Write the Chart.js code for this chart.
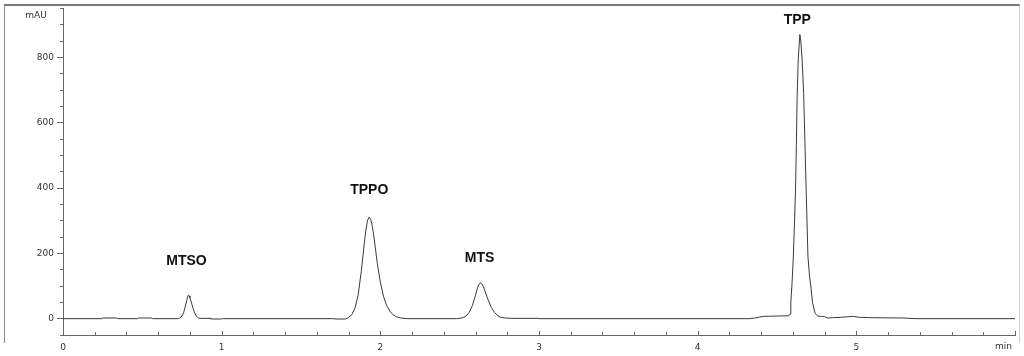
<!DOCTYPE html>
<html><head><meta charset="utf-8">
<script src="https://cdn.jsdelivr.net/npm/chart.js@4.4.1/dist/chart.umd.min.js"></script>
<style>
html,body{margin:0;padding:0;background:#fff;}
#wrap{position:relative;width:1024px;height:356px;overflow:hidden;}
#frame{position:absolute;left:4px;top:4px;width:1016px;height:339px;border-left:1px solid #8a8a8a;border-top:2px solid #7a7a7a;border-right:1px solid #d4d4d4;box-sizing:border-box;pointer-events:none;}
canvas{position:absolute;left:0;top:0;}
</style></head><body>
<div id="wrap"><canvas id="c" width="1024" height="356"></canvas><div id="frame"></div></div>
<script>
// retention time (min)
const times = [
  0, 0.245, 0.25, 0.34, 0.345, 0.47, 0.475, 0.56, 0.565, 0.72,
  0.735, 0.75, 0.76, 0.77, 0.78, 0.785, 0.79, 0.795, 0.80, 0.81,
  0.82, 0.83, 0.84, 0.85, 0.863, 0.93, 0.932, 1.0, 1.005, 1.70,
  1.72, 1.78, 1.79, 1.80, 1.82, 1.84, 1.86, 1.88, 1.90, 1.91,
  1.92, 1.93, 1.94, 1.95, 1.96, 1.98, 2.00, 2.02, 2.04, 2.06,
  2.08, 2.10, 2.13, 2.17, 2.48, 2.50, 2.52, 2.54, 2.56, 2.58,
  2.60, 2.61, 2.62, 2.63, 2.64, 2.65, 2.66, 2.68, 2.70, 2.72,
  2.74, 2.76, 2.79, 2.82, 3.0, 3.005, 4.33, 4.36, 4.39, 4.42,
  4.50, 4.575, 4.582, 4.587, 4.595, 4.602, 4.610, 4.617, 4.622, 4.627,
  4.634, 4.644, 4.650, 4.658, 4.668, 4.676, 4.684, 4.695, 4.705, 4.713,
  4.724, 4.74, 4.757, 4.78, 4.80, 4.82, 4.85, 4.90, 4.95, 4.98,
  5.02, 5.10, 5.30, 5.37, 6.0
];
// detector signal (mAU)
const signal = [
  0, 0, 2, 2, 0, 0, 2, 2, 0, 0,
  2, 8, 18, 36, 56, 66, 72, 70, 64, 48,
  31, 17, 8, 3, 1, 1, -1, -1, 0, 0,
  -1, -1, 1, 4, 12, 32, 72, 145, 235, 275,
  302, 311, 303, 282, 250, 172, 112, 68, 40, 23,
  12, 6, 2, 0, 0, 1, 3, 8, 19, 40,
  72, 90, 104, 110, 107, 97, 84, 57, 34, 19,
  9, 4, 2, 1, 1, 0, 0, 2, 5, 7,
  8, 9, 14, 49, 110, 180, 290, 400, 530, 680,
  796, 870, 850, 796, 690, 540, 390, 190, 130, 100,
  49, 16, 8, 7, 6, 2, 3, 4, 6, 7,
  4, 3, 2, 0, 0
];
// peak annotations
const peakNames = ['MTSO', 'TPPO', 'MTS', 'TPP'];
const peakLabelTimes = [0.778, 1.93, 2.625, 4.628];
const peakLabelLevels = [176, 393, 186, 913];
// tick labels
const yTickLabels = [0, 200, 400, 600, 800];
const xTickLabels = [0, 1, 2, 3, 4, 5];
const yUnit = 'mAU';
const xUnit = 'min';

const TICK_FONT = {family: '"DejaVu Sans", sans-serif', size: 9};
const TEXT_COLOR = '#333';

const isInt = v => Math.abs(v - Math.round(v)) < 1e-6;

const annotPlugin = {
  id: 'annot',
  afterDraw(chart) {
    const ctx = chart.ctx, xs = chart.scales.x, ys = chart.scales.y, ca = chart.chartArea;
    ctx.save();
    // upward x ticks
    ctx.strokeStyle = '#666';
    ctx.lineWidth = 1;
    xs.ticks.forEach(t => {
      const px = Math.round(xs.getPixelForValue(t.value)) + 0.5;
      const major = isInt(t.value);
      ctx.beginPath();
      ctx.moveTo(px, xs.top - (major ? 4 : 3));
      ctx.lineTo(px, xs.top + (major ? 1 : 0));
      ctx.stroke();
    });
    // peak labels
    ctx.fillStyle = '#111';
    ctx.font = 'bold 14px "Liberation Sans", Arial, sans-serif';
    ctx.textAlign = 'center';
    ctx.textBaseline = 'middle';
    peakNames.forEach((n, i) => {
      ctx.fillText(n, xs.getPixelForValue(peakLabelTimes[i]), ys.getPixelForValue(peakLabelLevels[i]));
    });
    // units
    ctx.fillStyle = TEXT_COLOR;
    ctx.font = '9px "DejaVu Sans", sans-serif';
    ctx.textAlign = 'center';
    ctx.fillText(yUnit, ca.left - 27, ca.top + 7);
    ctx.textAlign = 'right';
    ctx.fillText(xUnit, ca.right - 3, xs.top + 12);
    ctx.restore();
  }
};

new Chart(document.getElementById('c'), {
  type: 'line',
  data: {
    datasets: [{
      data: times.map((t, i) => ({x: t, y: signal[i]})),
      borderColor: '#3a3a3a',
      borderWidth: 1,
      pointRadius: 0,
      tension: 0,
      fill: false
    }]
  },
  options: {
    responsive: false,
    animation: false,
    events: [],
    layout: {padding: {left: 0, right: 9, top: 7, bottom: 0}},
    plugins: {legend: {display: false}, tooltip: {enabled: false}, title: {display: false}},
    scales: {
      x: {
        type: 'linear',
        min: 0, max: 6,
        afterFit: s => { s.height = 21; },
        border: {display: true, color: '#666', width: 1},
        grid: {display: true, drawOnChartArea: false, drawTicks: false},
        ticks: {
          stepSize: 0.2, autoSkip: false, maxRotation: 0, padding: 7,
          font: TICK_FONT, color: TEXT_COLOR,
          callback: v => (isInt(v) && xTickLabels.includes(Math.round(v))) ? String(Math.round(v)) : ''
        }
      },
      y: {
        type: 'linear',
        min: -50, max: 950,
        afterFit: s => { s.width = 63; },
        border: {display: true, color: '#666', width: 1},
        grid: {
          display: true, drawOnChartArea: false, drawTicks: true, tickLength: 6,
          tickColor: '#666',
          tickBorderDash: c => (c.tick && yTickLabels.includes(c.tick.value)) ? [] : [0, 3, 3, 20]
        },
        ticks: {
          stepSize: 50, autoSkip: false, padding: 3,
          font: TICK_FONT, color: TEXT_COLOR,
          callback: v => yTickLabels.includes(v) ? String(v) : ''
        }
      }
    }
  },
  plugins: [annotPlugin]
});
</script>
</body></html>
